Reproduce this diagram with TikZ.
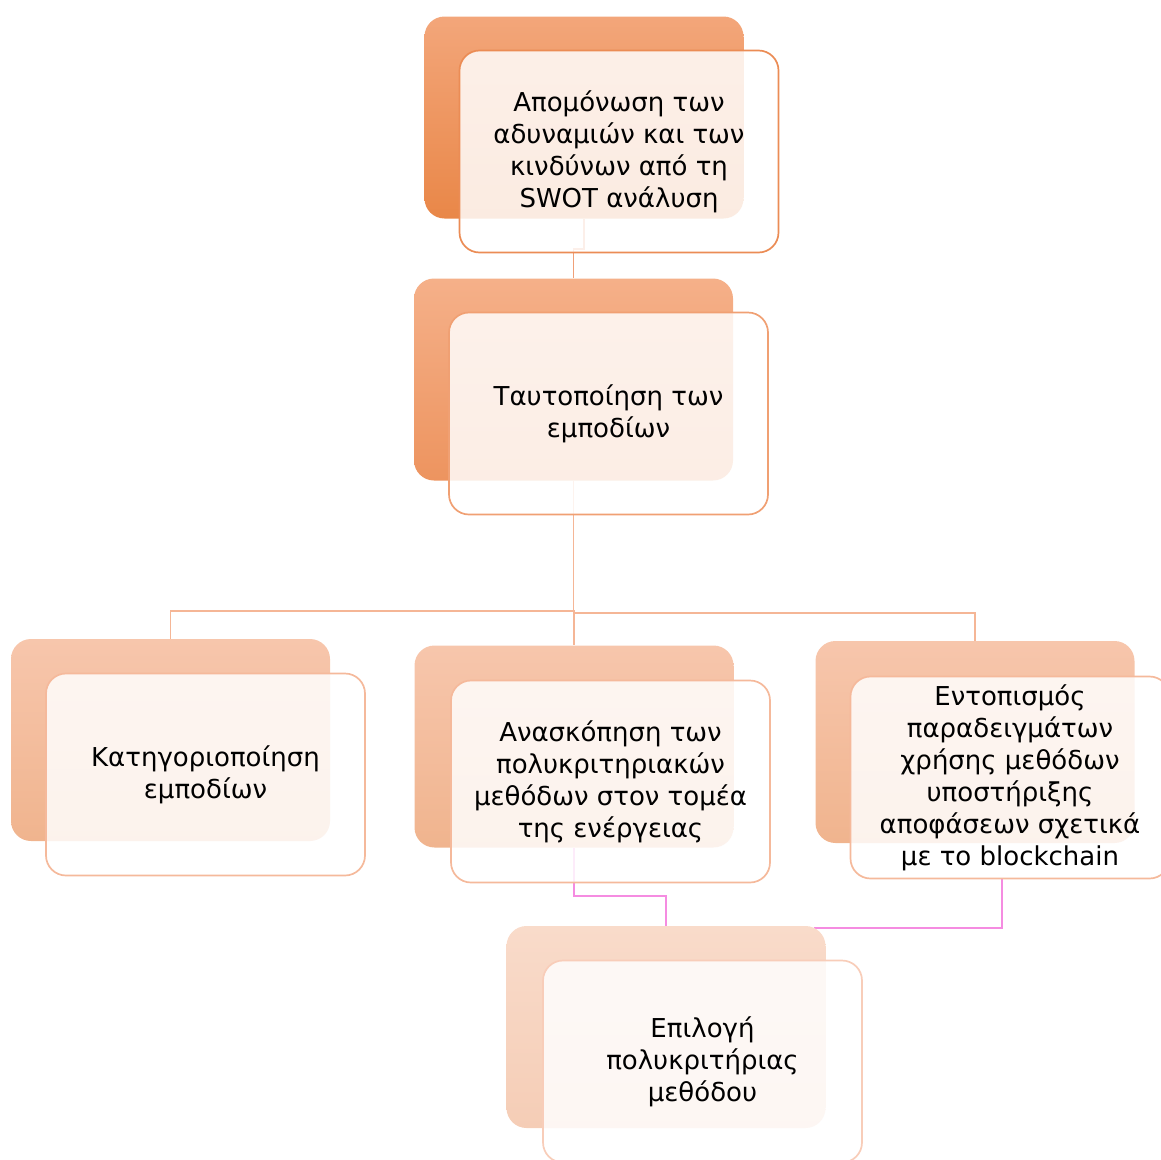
\documentclass[tikz,border=0pt]{standalone}
\usepackage{fontspec}
\setmainfont{DejaVu Sans}
\usetikzlibrary{backgrounds}

% palette
\definecolor{backAtop}{RGB}{243,166,122}
\definecolor{backAbot}{RGB}{233,135,72}
\definecolor{backBtop}{RGB}{245,176,137}
\definecolor{backBbot}{RGB}{237,148,95}
\definecolor{backCtop}{RGB}{247,198,172}
\definecolor{backCbot}{RGB}{240,180,142}
\definecolor{backDtop}{RGB}{249,219,202}
\definecolor{backDbot}{RGB}{245,205,182}
\definecolor{edgeA}{RGB}{235,140,85}
\definecolor{edgeB}{RGB}{240,160,115}
\definecolor{edgeC}{RGB}{245,185,155}
\definecolor{edgeD}{RGB}{248,205,185}
\definecolor{linkA}{RGB}{240,160,120}
\definecolor{linkB}{RGB}{245,182,150}
\definecolor{linkPink}{RGB}{245,140,225}

\tikzset{
  card/.style={rectangle, rounded corners=20pt, minimum width=319pt,
    minimum height=202pt, inner sep=0pt},
  backcard/.style={card, top color=#1top, bottom color=#1bot},
  frontcard/.style={card, draw=#1, line width=1.7pt,
    fill=white, fill opacity=0.84, text opacity=1, align=center,
    font=\fontsize{26}{32}\selectfont, text=black},
  link/.style={line width=1.8pt, draw=#1},
}

\begin{document}
\begin{tikzpicture}[x=1pt, y=-1pt]
\useasboundingbox (0,0) rectangle (1161,1159);
\clip (0,0) rectangle (1161,1159);

% back cards
\node[backcard=backA] (b1) at (584,117.5) {};
\node[backcard=backB] (b2) at (573.5,379.5) {};
\node[backcard=backC] (b3) at (170.5,740) {};
\node[backcard=backC] (b4) at (574,746.5) {};
\node[backcard=backC] (b5) at (975,742) {};
\node[backcard=backD] (b6) at (666,1027) {};

% front cards with the labels
\node[frontcard=edgeA] (f1) at (619,151.5)
  {Απομόνωση των\\αδυναμιών και των\\κινδύνων από τη\\SWOT ανάλυση};
\node[frontcard=edgeB] (f2) at (608.5,413.5)
  {Ταυτοποίηση των\\εμποδίων};
\node[frontcard=edgeC] (f3) at (205.5,774.5)
  {Κατηγοριοποίηση\\εμποδίων};
\node[frontcard=edgeC] (f4) at (610.5,781.5)
  {Ανασκόπηση των\\πολυκριτηριακών\\μεθόδων στον τομέα\\της ενέργειας};
\node[frontcard=edgeC] (f5) at (1010,777.5)
  {Εντοπισμός\\παραδειγμάτων\\χρήσης μεθόδων\\υποστήριξης\\αποφάσεων σχετικά\\με το blockchain};
\node[frontcard=edgeD] (f6) at (702.5,1061.5)
  {Επιλογή\\πολυκριτήριας\\μεθόδου};

% connectors, kept behind the cards
\begin{scope}[on background layer]
  \draw[link=linkA] (b1.south) -- ++(0,30) -| (b2.north);
  \draw[link=linkB] (b2.south) -- ++(0,130) -| (b3.north);
  \draw[link=linkB] (b2.south) -- ++(0,130) -| (b4.north);
  \draw[link=linkB] (b2.south) -- ++(0,132) -| (b5.north);
  \draw[link=linkPink] (b4.south) -- ++(0,48) -| (b6.north);
  \draw[link=linkPink] ([xshift=-8pt]f5.south) |- ([xshift=-12pt,yshift=-2pt]b6.north east);
\end{scope}
\end{tikzpicture}
\end{document}
